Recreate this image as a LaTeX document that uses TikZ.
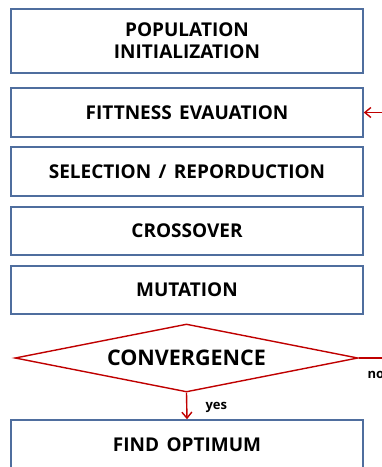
\documentclass[tikz,border=0pt]{standalone}
\usepackage{fontspec}
\setmainfont[WordSpace=1.5]{Open Sans}
\usetikzlibrary{shapes.geometric,arrows.meta}
\definecolor{boxblue}{RGB}{79,110,158}
\definecolor{flowred}{RGB}{192,0,0}
\tikzset{
  stepbox/.style={draw=boxblue, line width=1.6pt, rectangle, minimum width=352pt, inner sep=0pt,
    align=center, font=\bfseries\fontsize{19}{22}\selectfont},
  decision/.style={draw=flowred, line width=1.4pt, diamond, minimum width=343pt, minimum height=68pt,
    aspect=4.9, inner sep=0pt, font=\bfseries\fontsize{21.5}{24}\selectfont},
  flow/.style={draw=flowred, line width=1.4pt, -{Straight Barb[length=6pt,width=10pt]}},
  tag/.style={font=\bfseries\fontsize{13}{15}\selectfont}
}
\begin{document}
\begin{tikzpicture}[x=1pt,y=-1pt]
  \useasboundingbox[fill=white] (0,0) rectangle (382,467);
  \node[stepbox, minimum height=64pt] (init) at (187,41) {POPULATION\\INITIALIZATION};
  \node[stepbox, minimum height=49pt] (fit) at (187,112.5) {FITTNESS\ EVAUATION};
  \node[stepbox, minimum height=49pt] (sel) at (187,171.5) {SELECTION / REPORDUCTION};
  \node[stepbox, minimum height=48pt] (cross) at (187,231) {CROSSOVER};
  \node[stepbox, minimum height=48pt] (mut) at (187,290) {MUTATION};
  \node[decision] (conv) at (186.5,358) {CONVERGENCE};
  \node[stepbox, minimum height=50pt] (opt) at (187,445) {FIND OPTIMUM};
  % loop back (runs past the right edge)
  \coordinate (back) at (400,358);
  \draw[flow] (conv.east) -- (back) |- (fit.east);
  \draw[flow] (conv.south) -- (opt.north);
  \node[tag, anchor=west] (yes) at (202,407) {yes};
  \node[tag, anchor=west] (no) at (364,375) {no};
\end{tikzpicture}
\end{document}
